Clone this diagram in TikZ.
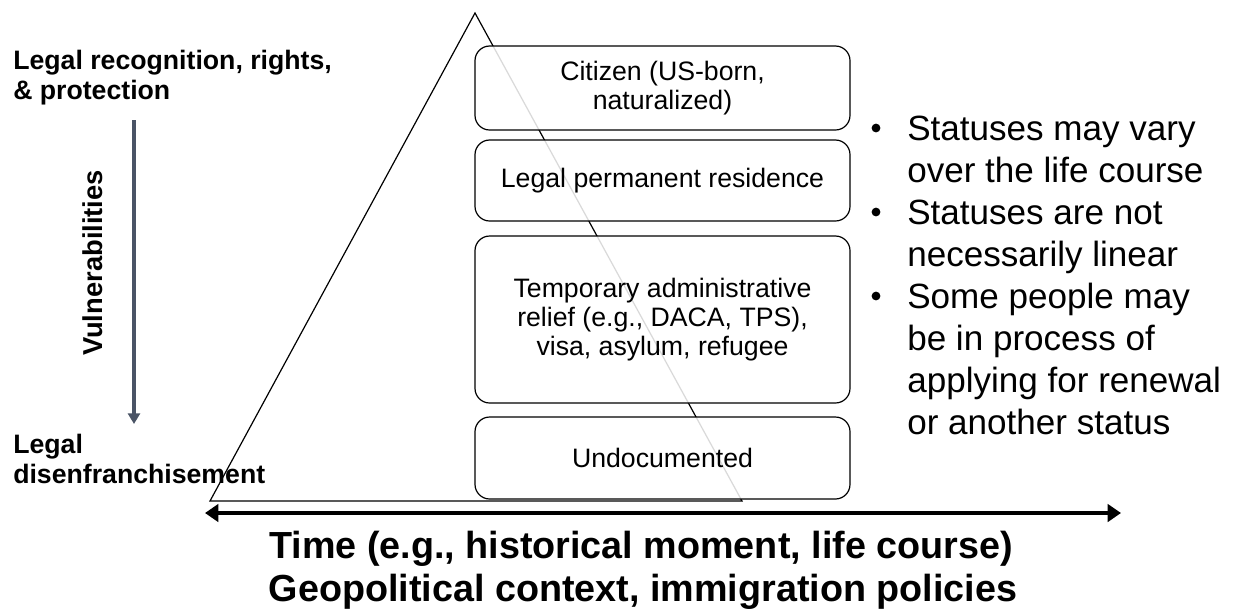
\documentclass[tikz,border=0pt]{standalone}
\usepackage{fontspec}
\setmainfont{Liberation Sans}
\usetikzlibrary{arrows.meta}
\definecolor{slate}{HTML}{4A5466}
\begin{document}
\begin{tikzpicture}[x=0.75pt,y=-0.75pt,
  status/.style={draw=black, line width=0.9pt, rounded corners=11pt, fill=white, fill opacity=0.85, text opacity=1, align=center, font=\fontsize{20}{21.8}\selectfont, inner sep=0pt},
  boldlbl/.style={font=\bfseries\fontsize{20}{22.5}\selectfont, align=left, anchor=base west, inner sep=0pt},
  bline/.style={font=\fontsize{26.3}{31.5}\selectfont, anchor=base west, inner sep=0pt},
  bottomlbl/.style={font=\bfseries\fontsize{28.3}{32.3}\selectfont, anchor=base, inner sep=0pt}]
\useasboundingbox (0,0) rectangle (1234,612);
% triangle
\coordinate (apex) at (475,13);
\coordinate (bl) at (210,501);
\coordinate (br) at (742,501);
\draw[line width=0.9pt] (apex) -- (bl) -- (br) -- cycle;
% status boxes
\node[status, minimum width=375*0.75pt, minimum height=84*0.75pt] (cit) at (662.5,88) {Citizen (US-born,\\naturalized)};
\node[status, minimum width=375*0.75pt, minimum height=81*0.75pt] (lpr) at (662.5,180.5) {Legal permanent residence};
\node[status, minimum width=375*0.75pt, minimum height=167*0.75pt] (tmp) at (662.5,319.5) {\raisebox{-3pt}{\parbox{250pt}{\centering Temporary administrative\\relief (e.g., DACA, TPS),\\visa, asylum, refugee}}};
\node[status, minimum width=375*0.75pt, minimum height=82*0.75pt] (und) at (662.5,458) {Undocumented};
% left labels
\node[boldlbl] (top1) at (13,69) {Legal recognition, rights,};
\node[boldlbl] (top2) at (13,99) {\& protection};
\node[boldlbl] (bot1) at (13,453) {Legal};
\node[boldlbl] (bot2) at (13,483) {disenfranchisement};
\coordinate (va) at (134,120);
\coordinate (vb) at (134,424);
\draw[slate, line width=2.6pt, -{Triangle[length=8pt,width=9pt]}] (va) -- (vb);
\node[font=\bfseries\fontsize{20.5}{22}\selectfont, rotate=90, inner sep=0pt] (vul) at (93,263) {Vulnerabilities};
% time arrow
\coordinate (ta) at (205,513);
\coordinate (tb) at (1121,513);
\draw[line width=3.4pt, {Triangle[length=10pt,width=13pt]}-{Triangle[length=10pt,width=13pt]}] (ta) -- (tb);
\node[bottomlbl] (time1) at (641,558) {Time (e.g., historical moment, life course)};
\node[bottomlbl] (time2) at (643,601) {Geopolitical context, immigration policies};
% bullets
\node[bline] (l1) at (907,140) {Statuses may vary};
\node[bline] (l2) at (907,182) {over the life course};
\node[bline] (l3) at (907,224) {Statuses are not};
\node[bline] (l4) at (907,266) {necessarily linear};
\node[bline] (l5) at (907,308) {Some people may};
\node[bline] (l6) at (907,350) {be in process of};
\node[bline] (l7) at (907,392) {applying for renewal};
\node[bline] (l8) at (907,434) {or another status};
\foreach \y in {128,212,296} \fill (876,\y) circle (3.3pt);
\end{tikzpicture}
\end{document}
